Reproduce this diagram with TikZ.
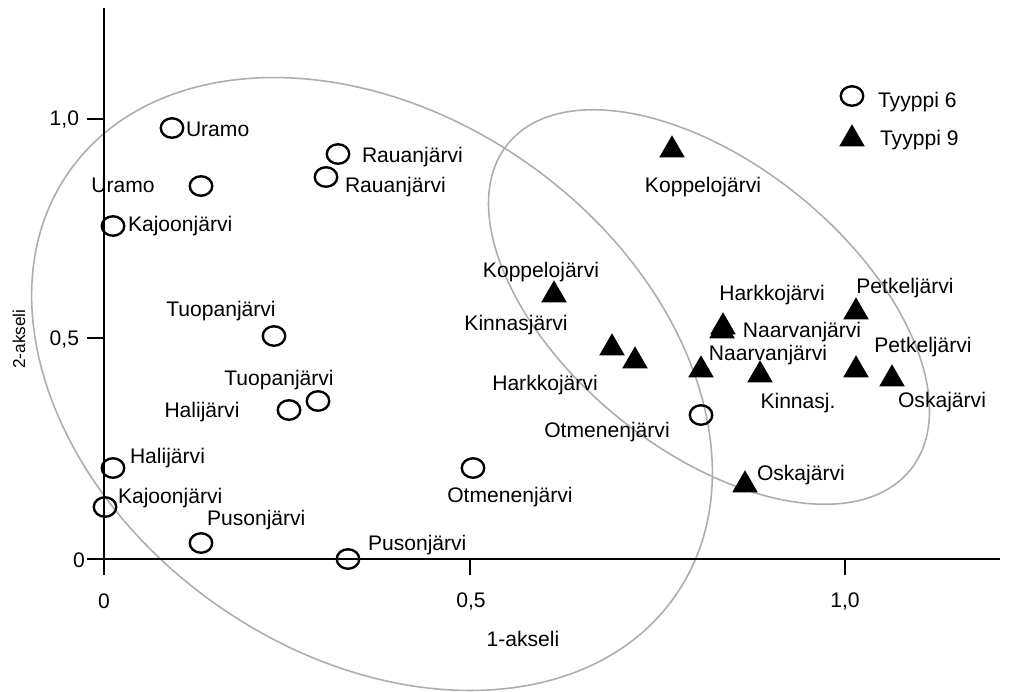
\documentclass[tikz,border=0pt]{standalone}
\usepackage{fontspec}
\setmainfont{Liberation Sans}
\usetikzlibrary{shapes.geometric}
\begin{document}
\begin{tikzpicture}[x=0.02cm,y=-0.02cm,
  every node/.style={inner sep=0pt, outer sep=0pt},
  lbl/.style={font=\fontsize{12}{14}\selectfont},
  small/.style={font=\fontsize{9.8}{12}\selectfont},
  ring/.style={draw=black, line width=1.35pt, ellipse, minimum width=0.45cm, minimum height=0.39cm},
  tri/.style={fill=black, regular polygon, regular polygon sides=3, minimum size=0.59cm},
  axisline/.style={line width=1.3pt, black},
  cluster/.style={draw=black!32, line width=0.9pt}]
\useasboundingbox (0,0) rectangle (1014,691);

% cluster ellipses
\begin{scope}[shift={(372,384)}, rotate=-35]
  \draw[cluster] (0,0) ellipse [x radius=7.4cm, y radius=5.4cm];
\end{scope}
\begin{scope}[shift={(709,307)}, rotate=-39]
  \draw[cluster] (0,0) ellipse [x radius=5.18cm, y radius=2.86cm];
\end{scope}

% axes
\coordinate (ytop) at (104,8);
\coordinate (ybot) at (104,575);
\coordinate (xl) at (87,559);
\coordinate (xr) at (1000,559);
\draw[axisline] (ytop) -- (ybot);
\draw[axisline] (xl) -- (xr);
\draw[axisline] (87,119) -- (104,119);
\draw[axisline] (87,338) -- (104,338);
\draw[axisline] (470,559) -- (470,575);
\draw[axisline] (845,559) -- (845,575);

% tick labels
\node[lbl, anchor=east] (y10) at (79,119) {1,0};
\node[lbl, anchor=east] (y05) at (79,339) {0,5};
\node[lbl] (y00) at (79,560) {0};
\node[lbl] (x00) at (104,601) {0};
\node[lbl] (x05) at (471,601) {0,5};
\node[lbl] (x10) at (845,601) {1,0};
\node[lbl] (xlab) at (523,639) {1-akseli};
\node[small, rotate=90] (ylab) at (19,339) {2-akseli};

% Tyyppi 6 (circles)
\node[ring] (c1) at (172,128) {};
\node[ring] (c2) at (201,186) {};
\node[ring] (c3) at (113,226) {};
\node[ring] (c4) at (338,154) {};
\node[ring] (c5) at (326,177) {};
\node[ring] (c6) at (274,336) {};
\node[ring] (c7) at (318,401) {};
\node[ring] (c8) at (289,410) {};
\node[ring] (c9) at (113,468) {};
\node[ring] (c10) at (105,507) {};
\node[ring] (c11) at (201,543) {};
\node[ring] (c12) at (348,559) {};
\node[ring] (c13) at (473,468) {};
\node[ring] (c14) at (701,415) {};

% Tyyppi 9 (triangles)
\node[tri] (t1) at (672,150) {};
\node[tri] (t2) at (554,295) {};
\node[tri] (t3) at (612,348) {};
\node[tri] (t4) at (635,361) {};
\node[tri] (t5) at (701,370) {};
\node[tri] (t6) at (723,327) {};
\node[tri] (t6b) at (722,331) {};
\node[tri] (t7) at (760,375) {};
\node[tri] (t8) at (856,312) {};
\node[tri] (t9) at (856,370) {};
\node[tri] (t10) at (892,379) {};
\node[tri] (t11) at (745,485) {};

% labels
\node[lbl, anchor=west] (l1) at (186,129) {Uramo};
\node[lbl] (l2) at (123,185) {Uramo};
\node[lbl, anchor=west] (l3) at (128,226) {Kajoonjärvi};
\node[lbl, anchor=west] (l4) at (362,157) {Rauanjärvi};
\node[lbl, anchor=west] (l5) at (345,187) {Rauanjärvi};
\node[lbl] (l6) at (221,311) {Tuopanjärvi};
\node[lbl] (l7) at (279,380) {Tuopanjärvi};
\node[lbl] (l8) at (202,412) {Halijärvi};
\node[lbl, anchor=west] (l9) at (130,458) {Halijärvi};
\node[lbl, anchor=west] (l10) at (118,498) {Kajoonjärvi};
\node[lbl, anchor=west] (l11) at (207,520) {Pusonjärvi};
\node[lbl, anchor=west] (l12) at (368,545) {Pusonjärvi};
\node[lbl] (l13) at (510,497) {Otmenenjärvi};
\node[lbl] (l14) at (607,432) {Otmenenjärvi};
\node[lbl] (l15) at (703,187) {Koppelojärvi};
\node[lbl] (l16) at (541,272) {Koppelojärvi};
\node[lbl] (l17) at (516,325) {Kinnasjärvi};
\node[lbl] (l18) at (545,385) {Harkkojärvi};
\node[lbl] (l19) at (772,295) {Harkkojärvi};
\node[lbl] (l20) at (802,332) {Naarvanjärvi};
\node[lbl] (l21) at (768,355) {Naarvanjärvi};
\node[lbl] (l22) at (798,403) {Kinnasj.};
\node[lbl] (l23) at (905,288) {Petkeljärvi};
\node[lbl] (l24) at (923,347) {Petkeljärvi};
\node[lbl] (l25) at (942,402) {Oskajärvi};
\node[lbl, anchor=west] (l26) at (757,475) {Oskajärvi};

% legend
\node[ring] (legc) at (852,96) {};
\node[tri] (legt) at (852,139) {};
\node[lbl, anchor=west] (leg6) at (878,102) {Tyyppi 6};
\node[lbl, anchor=west] (leg9) at (880,140) {Tyyppi 9};
\end{tikzpicture}
\end{document}
